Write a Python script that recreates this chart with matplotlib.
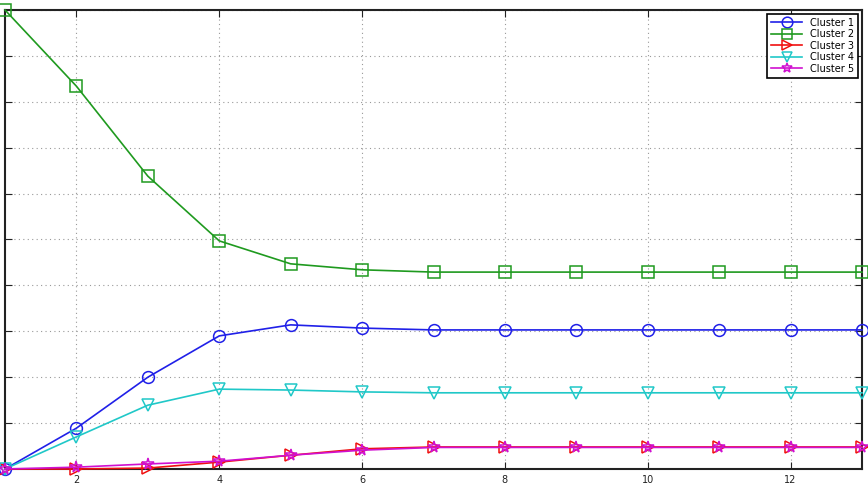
import numpy as np
import matplotlib
matplotlib.use('Agg')
from matplotlib import pyplot as plt

iters = list(range(1, 14))
cluster1 = [0.0, 0.089, 0.200, 0.290, 0.314, 0.307, 0.303, 0.303, 0.303, 0.303, 0.303, 0.303, 0.303]
cluster2 = [1.0, 0.834, 0.638, 0.497, 0.447, 0.434, 0.429, 0.429, 0.429, 0.429, 0.429, 0.429, 0.429]
cluster3 = [0.0, 0.0, 0.002, 0.015, 0.030, 0.044, 0.048, 0.048, 0.048, 0.048, 0.048, 0.048, 0.048]
cluster4 = [0.0, 0.070, 0.139, 0.174, 0.172, 0.168, 0.166, 0.166, 0.166, 0.166, 0.166, 0.166, 0.166]
cluster5 = [0.0, 0.004, 0.011, 0.017, 0.030, 0.041, 0.047, 0.047, 0.047, 0.047, 0.047, 0.047, 0.047]
names = ['Cluster 1', 'Cluster 2', 'Cluster 3', 'Cluster 4', 'Cluster 5']

fig = plt.figure(figsize=(8.68, 4.9), dpi=100)
ax = fig.add_axes([5 / 868, 21 / 490, 857 / 868, 459 / 490])

styles = [('#2020e8', 'o'), ('#1f9a1f', 's'), ('#f01010', '>'), ('#20c8c8', 'v'), ('#d010d0', '*')]
for ys, name, (c, m) in zip([cluster1, cluster2, cluster3, cluster4, cluster5], names, styles):
    ax.plot(iters, ys, color=c, marker=m, markersize=8.5, markerfacecolor='none',
            markeredgewidth=1.1, linewidth=1.2, label=name, clip_on=False, zorder=3)

ax.set_xlim(1, 13)
ax.set_ylim(0, 1)
ax.set_xticks([2, 4, 6, 8, 10, 12])
ax.set_yticks(np.arange(0.1, 1.01, 0.1))
ax.yaxis.set_major_formatter(matplotlib.ticker.FormatStrFormatter('%.1f'))
ax.tick_params(direction='in', length=5, labelsize=7, colors='#222222', pad=4,
               top=True, right=True)
ax.grid(True, linestyle=(0, (1, 3)), color='#999999', linewidth=0.8)
for s in ax.spines.values():
    s.set_linewidth(1.5)
    s.set_color('#222222')
ax.set_xlabel('Iteration', fontsize=8, labelpad=6, color='#666666')

leg = ax.legend(loc='upper right', fontsize=7, fancybox=False, framealpha=1,
                edgecolor='black', borderpad=0.4, labelspacing=0.15, handlelength=3.2,
                borderaxespad=0.4, markerscale=0.9)
leg.get_frame().set_linewidth(1.2)

fig.savefig('out.png', dpi=100)
